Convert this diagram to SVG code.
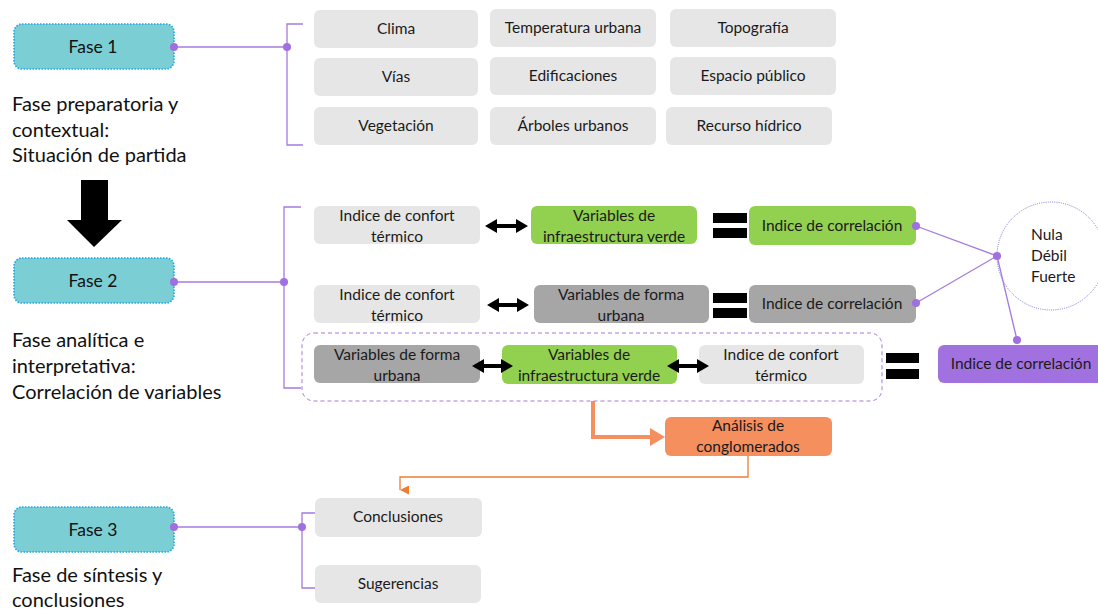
<svg xmlns="http://www.w3.org/2000/svg" width="1098" height="611" viewBox="0 0 1098 611">
<defs>
<style>
.fase{fill:#7BCED3;stroke:#1AA7E6;stroke-width:1.6;stroke-dasharray:1.5 1.5}
.ft{font-family:Lato,"Open Sans",sans-serif;font-size:17.5px;fill:#111;text-anchor:middle}
.desc{font-family:Lato,"Open Sans",sans-serif;font-size:20px;fill:#111}
.g{fill:#E7E6E6}
.dg{fill:#A6A6A6}
.gr{fill:#92D050}
.pu{fill:#A172DF}
.or{fill:#F68F5E}
.bt{font-family:Lato,"Noto Sans",sans-serif;font-size:15.5px;fill:#1a1a1a;text-anchor:middle}
.st{text-anchor:start}
.pl{fill:none;stroke:#A37BE0;stroke-width:1.3}
.dot{fill:#A070E0}
.blk{fill:#000}
</style>
<marker id="oa" viewBox="0 0 10 10" refX="5" refY="10" markerWidth="9" markerHeight="9" markerUnits="userSpaceOnUse" orient="auto-start-reverse">
<path d="M0,0 L10,0 L5,10 z" fill="#EE7D30"/>
</marker>
</defs>

<g id="fase1">
<rect class="fase" x="14" y="24" width="160" height="45" rx="8"/>
<text class="ft" x="93" y="53">Fase 1</text>
<text class="desc" x="12" y="111">Fase preparatoria y</text>
<text class="desc" x="12" y="137">contextual:</text>
<text class="desc" x="12" y="162">Situación de partida</text>
</g>

<g id="fase2">
<rect class="fase" x="14" y="258" width="160" height="45" rx="8"/>
<text class="ft" x="93" y="287">Fase 2</text>
<text class="desc" x="12" y="347">Fase analítica e</text>
<text class="desc" x="12" y="373">interpretativa:</text>
<text class="desc" x="12" y="399">Correlación de variables</text>
</g>

<g id="fase3">
<rect class="fase" x="14" y="507" width="160" height="45" rx="8"/>
<text class="ft" x="93" y="536">Fase 3</text>
<text class="desc" x="12" y="582">Fase de síntesis y</text>
<text class="desc" x="12" y="607">conclusiones</text>
</g>

<g id="clima"><rect class="g" x="314" y="10" width="164" height="38" rx="6"/><text class="bt" x="396" y="34">Clima</text></g>
<g id="temperatura"><rect class="g" x="490" y="9" width="166" height="38" rx="6"/><text class="bt" x="573" y="33">Temperatura urbana</text></g>
<g id="topografia"><rect class="g" x="670" y="9" width="166" height="38" rx="6"/><text class="bt" x="753" y="33">Topografía</text></g>
<g id="vias"><rect class="g" x="314" y="58" width="164" height="38" rx="6"/><text class="bt" x="396" y="82">Vías</text></g>
<g id="edificaciones"><rect class="g" x="490" y="57" width="166" height="38" rx="6"/><text class="bt" x="573" y="81">Edificaciones</text></g>
<g id="espacio"><rect class="g" x="670" y="57" width="166" height="38" rx="6"/><text class="bt" x="753" y="81">Espacio público</text></g>
<g id="vegetacion"><rect class="g" x="314" y="107" width="164" height="38" rx="6"/><text class="bt" x="396" y="131">Vegetación</text></g>
<g id="arboles"><rect class="g" x="490" y="107" width="166" height="38" rx="6"/><text class="bt" x="573" y="131">Árboles urbanos</text></g>
<g id="recurso"><rect class="g" x="666" y="107" width="166" height="38" rx="6"/><text class="bt" x="749" y="131">Recurso hídrico</text></g>

<g id="ict1"><rect class="g" x="314" y="206" width="166" height="38" rx="6"/><text class="bt" x="397" y="221">Indice de confort</text><text class="bt" x="397" y="242">térmico</text></g>
<g id="viv1"><rect class="gr" x="531" y="206" width="166" height="38" rx="6"/><text class="bt" x="614" y="221">Variables de</text><text class="bt" x="614" y="242">infraestructura verde</text></g>
<g id="ic1"><rect class="gr" x="749" y="206" width="167" height="39" rx="6"/><text class="bt" x="832" y="231">Indice de correlación</text></g>

<g id="ict2"><rect class="g" x="314" y="285" width="166" height="38" rx="6"/><text class="bt" x="397" y="300">Indice de confort</text><text class="bt" x="397" y="321">térmico</text></g>
<g id="vfu2"><rect class="dg" x="534" y="285" width="175" height="38" rx="6"/><text class="bt" x="621" y="300">Variables de forma</text><text class="bt" x="621" y="321">urbana</text></g>
<g id="ic2"><rect class="dg" x="749" y="285" width="167" height="38" rx="6"/><text class="bt" x="832" y="309">Indice de correlación</text></g>

<g id="grupo3"><rect x="302" y="333" width="580" height="68" rx="12" fill="none" stroke="#A37BE0" stroke-width="1" stroke-dasharray="4 3"/></g>
<g id="vfu3"><rect class="dg" x="314" y="345" width="166" height="38" rx="6"/><text class="bt" x="397" y="360">Variables de forma</text><text class="bt" x="397" y="381">urbana</text></g>
<g id="viv3"><rect class="gr" x="502" y="345" width="175" height="39" rx="6"/><text class="bt" x="589" y="360">Variables de</text><text class="bt" x="589" y="381">infraestructura verde</text></g>
<g id="ict3"><rect class="g" x="699" y="345" width="165" height="39" rx="6"/><text class="bt" x="781" y="360">Indice de confort</text><text class="bt" x="781" y="381">térmico</text></g>
<g id="ic3"><rect class="pu" x="938" y="345" width="166" height="38" rx="6"/><text class="bt" x="1021" y="369">Indice de correlación</text></g>

<g id="nivel"><circle cx="1051" cy="256" r="54" fill="#fff" stroke="#7A7AD8" stroke-width="1" stroke-dasharray="1 1.2"/>
<text class="bt st" x="1031" y="240">Nula</text>
<text class="bt st" x="1031" y="261">Débil</text>
<text class="bt st" x="1031" y="282">Fuerte</text></g>

<g id="analisis"><rect class="or" x="665" y="417" width="167" height="39" rx="6"/><text class="bt" x="748" y="431">Análisis de</text><text class="bt" x="748" y="452">conglomerados</text></g>

<g id="conclusiones"><rect class="g" x="315" y="498" width="167" height="39" rx="6"/><text class="bt" x="398" y="522">Conclusiones</text></g>
<g id="sugerencias"><rect class="g" x="315" y="565" width="166" height="38" rx="6"/><text class="bt" x="398" y="589">Sugerencias</text></g>

<g id="connectors">
<path class="pl" d="M174,47 H287"/>
<path class="pl" d="M303,24 H287 V145 H303"/>
<path class="pl" d="M174,282 H284"/>
<path class="pl" d="M301,207 H284 V388 H301"/>
<path class="pl" d="M174,527 H302"/>
<path class="pl" d="M315,513 H302 V588 H315"/>
<path class="pl" d="M916,226 L997,256 L916,303 M997,256 L1017,340"/>
<circle class="dot" cx="174" cy="47" r="4"/>
<circle class="dot" cx="287" cy="47" r="4"/>
<circle class="dot" cx="174" cy="282" r="4"/>
<circle class="dot" cx="284" cy="282" r="4"/>
<circle class="dot" cx="174" cy="527" r="4"/>
<circle class="dot" cx="302" cy="527" r="4"/>
<circle class="dot" cx="916" cy="226" r="4"/>
<circle class="dot" cx="916" cy="303" r="4"/>
<circle class="dot" cx="997" cy="256" r="4"/>
<circle class="dot" cx="1017" cy="340" r="4"/>
<polygon class="blk" points="81,180 108,180 108,220 122,220 94,247 67,220 81,220"/>
<polygon class="blk" points="485,226 497,219 497,224 516,224 516,219 528,226 516,233 516,228 497,228 497,233"/>
<polygon class="blk" points="487,305 499,298 499,303 517,303 517,298 529,305 517,312 517,307 499,307 499,312"/>
<polygon class="blk" points="472,366 484,359 484,364 501,364 501,359 513,366 501,373 501,368 484,368 484,373"/>
<polygon class="blk" points="667,366 679,359 679,364 697,364 697,359 709,366 697,373 697,368 679,368 679,373"/>
<rect class="blk" x="713" y="213" width="34" height="10"/>
<rect class="blk" x="713" y="228" width="34" height="10"/>
<rect class="blk" x="713" y="293" width="34" height="10"/>
<rect class="blk" x="713" y="308" width="34" height="10"/>
<rect class="blk" x="886" y="353" width="33" height="10"/>
<rect class="blk" x="886" y="369" width="33" height="10"/>
<path d="M593,401 V437 H652" fill="none" stroke="#F68F5E" stroke-width="4"/>
<polygon points="650,428 665,437 650,446" fill="#F68F5E"/>
<path d="M748,456 V477 H400 V490" fill="none" stroke="#EE7D30" stroke-width="1.3" marker-end="url(#oa)"/>
</g>
</svg>
